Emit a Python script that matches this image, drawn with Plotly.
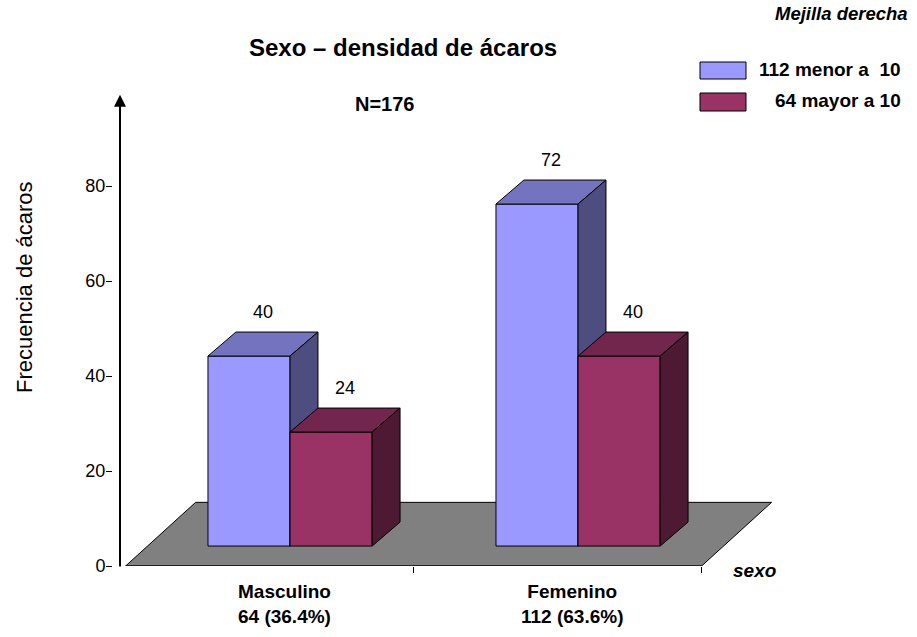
import plotly.graph_objects as go

# ---- data ----
categories = ["Masculino", "Femenino"]
category_totals = [64, 112]
category_pct = [36.4, 63.6]
series_names = ["menor a  10", "mayor a 10"]
series_totals = [112, 64]
menor_a_10 = [40, 72]
mayor_a_10 = [24, 40]
n_total = 176
y_ticks = [0, 20, 40, 60, 80]

series_values = [menor_a_10, mayor_a_10]

# ---- page geometry ----
W, H = 917, 637
L, R, T, B = 113, 117, 91, 71
PW, PH = W - L - R, H - T - B
Y_MAX = 100
X_RANGE = [-0.59375, 1.79167]


def px(x):
    return (x - L) / PW


def py(y):
    return (H - B - y) / PH


def x_of_px(x):
    return X_RANGE[0] + (x - L) / PW * (X_RANGE[1] - X_RANGE[0])


# ---- 3D look parameters (in axis units) ----
BAR_LEFT = -0.264      # front face left edge relative to category
BAR_W = 0.285
BAR_BASE = 4.2         # bars stand mid-depth on the floor
DEPTH_DX, DEPTH_DY = 0.097, 5.05
FLOOR_LEFT, FLOOR_RIGHT = -0.55, 0.45
FLOOR_DX, FLOOR_DY = 0.243, 13.4

face_colors = [
    {"front": "#9999FF", "top": "#7373BF", "side": "#4D4D80"},
    {"front": "#993366", "top": "#73264D", "side": "#4D1933"},
]
FONT = "Liberation Sans, Arial, sans-serif"

fig = go.Figure()


def poly(xs, ys, color, width=1.0):
    fig.add_trace(go.Scatter(
        x=xs + [xs[0]], y=ys + [ys[0]], mode="lines", fill="toself",
        fillcolor=color, line=dict(color="black", width=width),
        hoverinfo="skip", showlegend=False))


# floor
fl = FLOOR_LEFT
fr = (len(categories) - 1) + FLOOR_RIGHT
poly([fl, fr, fr + FLOOR_DX, fl + FLOOR_DX], [0, 0, FLOOR_DY, FLOOR_DY], "#808080", 1.0)
fig.add_trace(go.Scatter(x=[fl, fr], y=[0, 0], mode="lines",
                         line=dict(color="#222222", width=2),
                         hoverinfo="skip", showlegend=False))

annotations = []


def text_at(x, y, text, size, xanchor="center", **kw):
    annotations.append(dict(x=px(x), y=py(y), xref="paper", yref="paper",
                            xanchor=xanchor, yanchor="middle", text=text,
                            showarrow=False,
                            font=dict(size=size, color="black", family=FONT), **kw))


# bars
for i, cat in enumerate(categories):
    for s, vals in enumerate(series_values):
        v = vals[i]
        x0 = i + BAR_LEFT + s * BAR_W
        x1 = x0 + BAR_W
        b, t = BAR_BASE, BAR_BASE + v
        c = face_colors[s]
        poly([x0, x1, x1, x0], [b, b, t, t], c["front"])
        poly([x0, x1, x1 + DEPTH_DX, x0 + DEPTH_DX], [t, t, t + DEPTH_DY, t + DEPTH_DY], c["top"])
        poly([x1, x1 + DEPTH_DX, x1 + DEPTH_DX, x1], [b, b + DEPTH_DY, t + DEPTH_DY, t], c["side"])
        annotations.append(dict(
            x=(x0 + x1) / 2 + DEPTH_DX / 2, y=t + DEPTH_DY, xref="x", yref="y",
            text=str(v), showarrow=False, xanchor="center", yanchor="bottom", yshift=8,
            font=dict(size=18, color="black", family=FONT)))
    annotations.append(dict(
        x=i, y=py(604), xref="x", yref="paper",
        text=f"<b>{cat}<br>{category_totals[i]} ({category_pct[i]}%)</b>",
        showarrow=False, xanchor="center", yanchor="middle",
        font=dict(size=19, color="black", family=FONT)))

# vertical axis line with arrow
xa = x_of_px(120)
annotations.append(dict(
    x=xa, y=99.2, ax=xa, ay=-0.4, xref="x", yref="y", axref="x", ayref="y",
    text="", showarrow=True, arrowhead=2, arrowsize=1.2, arrowwidth=2,
    arrowcolor="black"))

# titles and texts
text_at(403, 47, "<b>Sexo – densidad de ácaros</b>", 24)
text_at(385, 104, f"<b>N={n_total}</b>", 20)
text_at(910, 14, "<b><i>Mejilla derecha</i></b>", 18.5, xanchor="right")
text_at(754, 570, "<b><i>sexo</i></b>", 19)
text_at(24, 287, "Frecuencia de ácaros", 22, textangle=-90)

# legend
shapes = []
leg_rows = [(62, 79), (93, 111)]
for s, name in enumerate(series_names):
    y0, y1 = leg_rows[s]
    shapes.append(dict(type="rect", xref="paper", yref="paper",
                       x0=px(700), x1=px(746), y0=py(y1), y1=py(y0),
                       fillcolor=face_colors[s]["front"],
                       line=dict(color="black", width=1)))
    label = f"{series_totals[s]} {name}".replace("  ", "\u00a0 ")
    text_at(903, (y0 + y1) / 2 - 1, f"<b>{label}</b>", 19, xanchor="right")

fig.update_layout(
    width=W, height=H,
    margin=dict(l=L, r=R, t=T, b=B, pad=0),
    paper_bgcolor="white", plot_bgcolor="white",
    showlegend=False,
    xaxis=dict(range=X_RANGE, showgrid=False, zeroline=False, showline=False,
               tickvals=[i + FLOOR_RIGHT for i in range(len(categories))],
               ticks="outside", ticklen=6, tickwidth=1, tickcolor="black",
               showticklabels=False, fixedrange=True),
    yaxis=dict(range=[0, Y_MAX], showgrid=False, zeroline=False, showline=False,
               tickvals=y_ticks, ticks="outside", ticklen=6, tickwidth=1,
               tickcolor="black", ticklabelstandoff=-3,
               tickfont=dict(size=18, color="black", family=FONT),
               fixedrange=True),
    annotations=annotations,
    shapes=shapes,
)

fig.write_html("out.html", config={"displayModeBar": False})
